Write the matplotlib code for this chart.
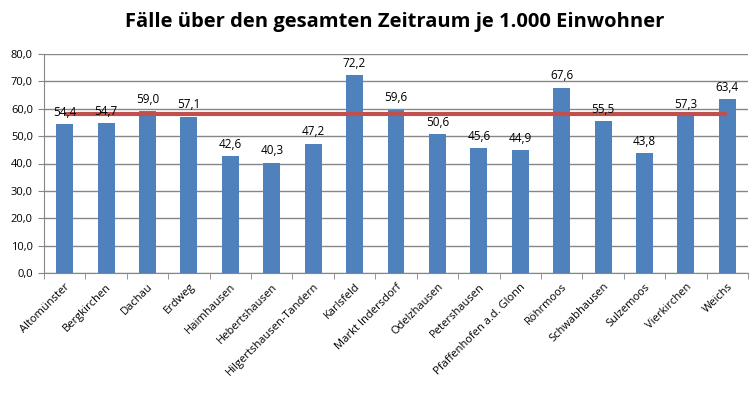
import matplotlib
matplotlib.use("Agg")
import matplotlib.pyplot as plt
import numpy as np

categories = ["Altomünster", "Bergkirchen", "Dachau", "Erdweg", "Haimhausen",
              "Hebertshausen", "Hilgertshausen-Tandern", "Karlsfeld", "Markt Indersdorf",
              "Odelzhausen", "Petershausen", "Pfaffenhofen a.d. Glonn", "Röhrmoos",
              "Schwabhausen", "Sulzemoos", "Vierkirchen", "Weichs"]
values = [54.4, 54.7, 59.0, 57.1, 42.6, 40.3, 47.2, 72.2, 59.6, 50.6, 45.6, 44.9,
          67.6, 55.5, 43.8, 57.3, 63.4]
reference_value = 58.0
yticks = [0, 10, 20, 30, 40, 50, 60, 70, 80]
title = "Fälle über den gesamten Zeitraum je 1.000 Einwohner"

plt.rcParams['font.family'] = ['Open Sans', 'DejaVu Sans']

fig = plt.figure(figsize=(7.5, 4.01), dpi=100)
ax = fig.add_axes([44/750, 1-273/401, (748-44)/750, (273-54)/401])

x = np.arange(len(categories))
ax.bar(x, values, width=0.41, color="#4F81BD", zorder=2)
ax.plot([x[0], x[-1]], [reference_value, reference_value], color="#C0504D", lw=3, zorder=3,
        solid_capstyle='butt')

for xi, v in zip(x, values):
    ax.text(xi, v + 2.0, f"{v:.1f}".replace(".", ","), ha="center", va="bottom",
            fontsize=8.5, color="black", zorder=4)

ax.set_xlim(-0.5, len(categories) - 0.5)
ax.set_ylim(0, 80)
ax.set_yticks(yticks)
ax.set_yticklabels([f"{t:.1f}".replace(".", ",") for t in yticks], fontsize=8)
ax.yaxis.grid(True, color="#868686", lw=1, zorder=0)
ax.set_axisbelow(True)

ax.set_xticks(x)
ax.set_xticklabels(categories, rotation=45, ha="right", rotation_mode="anchor", fontsize=8)
ax.set_xticks(np.arange(-0.5, len(categories)), minor=True)
ax.tick_params(axis="x", which="major", length=0, pad=6)
ax.tick_params(axis="x", which="minor", length=4, color="#868686")
ax.tick_params(axis="y", length=4, color="#868686", pad=4)

for s in ["top", "right"]:
    ax.spines[s].set_visible(False)
ax.spines["left"].set_color("#868686")
ax.spines["bottom"].set_color("#868686")

fig.text(395/750, 1-22/401, title, ha="center", va="center", fontsize=14.5, fontweight="bold")

fig.savefig("out.png", dpi=100)
